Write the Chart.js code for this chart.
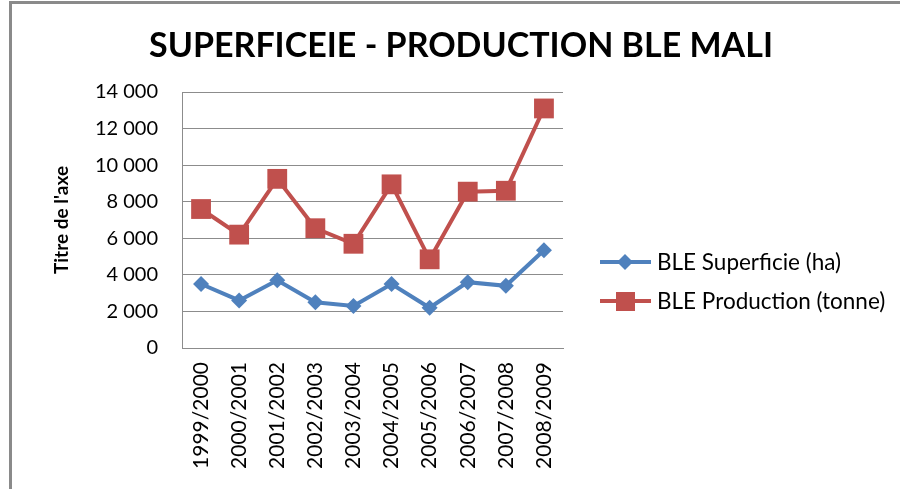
<!DOCTYPE html>
<html>
<head>
<meta charset="utf-8">
<script src="https://cdn.jsdelivr.net/npm/chart.js@4.4.1/dist/chart.umd.min.js"></script>
<style>
html,body{margin:0;padding:0;background:#fff;}
canvas{display:block;}
</style>
</head>
<body>
<canvas id="c" width="900" height="489"></canvas>
<script>
const categories = ["1999/2000","2000/2001","2001/2002","2002/2003","2003/2004","2004/2005","2005/2006","2006/2007","2007/2008","2008/2009"];
const superficie = [3500, 2600, 3700, 2500, 2300, 3500, 2200, 3600, 3400, 5350];
const production = [7600, 6200, 9250, 6550, 5700, 8950, 4850, 8550, 8600, 13100];
const seriesNames = ["BLE Superficie (ha)", "BLE Production (tonne)"];
const chartTitle = "SUPERFICEIE - PRODUCTION BLE MALI";
const yAxisTitle = "Titre de l'axe";
const yTickValues = [0, 2000, 4000, 6000, 8000, 10000, 12000, 14000];

const BLUE = "#4F81BD", RED = "#C0504D", GRID = "#8c8c8c";
const FONT = "Lato, 'Open Sans', sans-serif";

function fmt(v){ return String(v).replace(/\B(?=(\d{3})+(?!\d))/g, " "); }

const framePlugin = {
  id: "frame",
  beforeDraw(chart){
    const ctx = chart.ctx;
    ctx.save();
    ctx.fillStyle = "#fff";
    ctx.fillRect(0,0,chart.width,chart.height);
    ctx.fillStyle = "#8a8a8a";
    ctx.fillRect(9, 1, 3, chart.height);
    ctx.fillRect(9, 1, chart.width, 3);
    ctx.restore();
  },
  afterDraw(chart){
    const ctx = chart.ctx;
    ctx.save();
    ctx.fillStyle = "#000";
    ctx.font = "bold 34px " + FONT;
    ctx.textAlign = "center";
    ctx.textBaseline = "middle";
    ctx.fillText(chartTitle, 461, 46);
    ctx.restore();
  }
};

const legendPlugin = {
  id: "customLegend",
  afterDraw(chart){
    const ctx = chart.ctx;
    const rows = [262, 301];
    chart.data.datasets.forEach((ds, i) => {
      const y = rows[i];
      ctx.save();
      ctx.strokeStyle = ds.borderColor;
      ctx.lineWidth = 4;
      ctx.beginPath(); ctx.moveTo(600, y); ctx.lineTo(651, y); ctx.stroke();
      ctx.fillStyle = ds.backgroundColor;
      if (ds.pointStyle === "rect") {
        ctx.fillRect(616, y - 9, 19, 19);
      } else {
        ctx.beginPath();
        ctx.moveTo(625, y - 8); ctx.lineTo(633, y); ctx.lineTo(625, y + 8); ctx.lineTo(617, y);
        ctx.closePath(); ctx.fill();
      }
      ctx.fillStyle = "#000";
      ctx.font = "22.5px " + FONT;
      ctx.textBaseline = "middle";
      ctx.textAlign = "left";
      ctx.fillText(ds.label, 657, y + 1);
      ctx.restore();
    });
  }
};

new Chart(document.getElementById("c"), {
  type: "line",
  data: {
    labels: categories,
    datasets: [
      { label: seriesNames[0], data: superficie, borderColor: BLUE, backgroundColor: BLUE,
        borderWidth: 4, pointStyle: "rectRot", pointRadius: 8, pointBorderWidth: 0, tension: 0 },
      { label: seriesNames[1], data: production, borderColor: RED, backgroundColor: RED,
        borderWidth: 4, pointStyle: "rect", pointRadius: 14, pointBorderWidth: 0, tension: 0 }
    ]
  },
  options: {
    responsive: false,
    animation: false,
    layout: { padding: { top: 92, left: 12, right: 337, bottom: 0 } },
    plugins: {
      legend: { display: false },
      tooltip: { enabled: false },
      title: { display: false }
    },
    scales: {
      x: {
        offset: true,
        grid: { display: false },
        border: { display: true, color: GRID, width: 1 },
        ticks: { color: "#000", font: { family: FONT, size: 21 }, minRotation: 90, maxRotation: 90, padding: 6, autoSkip: false },
        afterFit(s){ s.height = 141; }
      },
      y: {
        min: 0, max: 14000,
        afterBuildTicks(s){ s.ticks = yTickValues.map(v => ({ value: v })); },
        grid: { color: GRID, lineWidth: 1, drawTicks: false },
        border: { display: true, color: GRID, width: 1 },
        ticks: { color: "#000", font: { family: FONT, size: 20 }, padding: 24, callback: v => fmt(v) },
        title: { display: true, text: yAxisTitle, color: "#000", font: { family: FONT, size: 19, weight: "bold" }, padding: { top: 38, bottom: 0 } },
        afterFit(s){ s.width = 170; }
      }
    }
  },
  plugins: [framePlugin, legendPlugin]
});
</script>
</body>
</html>
